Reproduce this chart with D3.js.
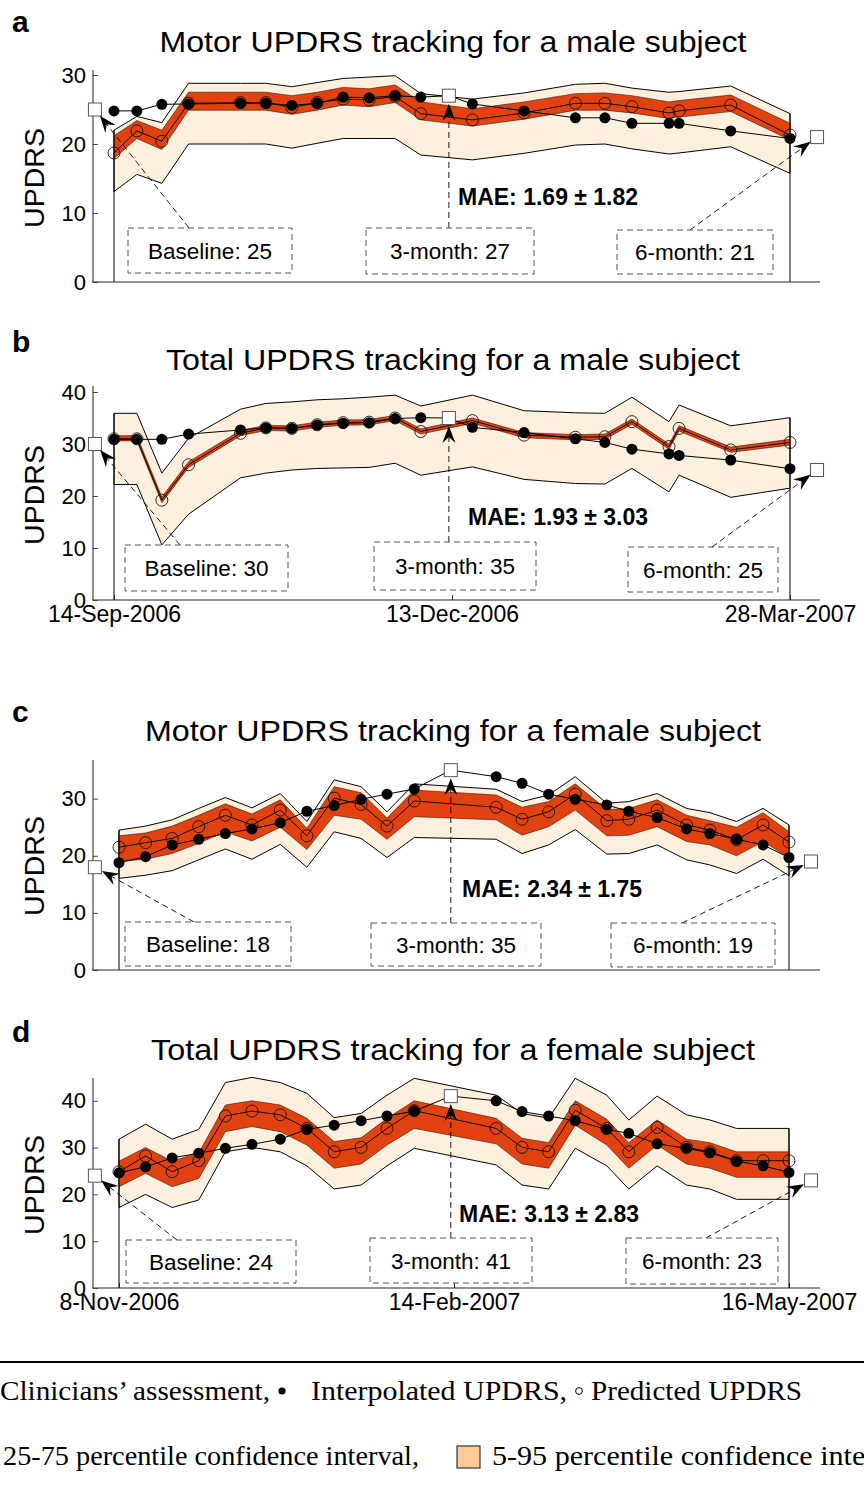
<!DOCTYPE html>
<html><head><meta charset="utf-8">
<script src="https://cdn.jsdelivr.net/npm/d3@7"></script>
<style>body{margin:0;background:#fff}svg{display:block}</style>
</head><body>
<svg id="chart" width="864" height="1486"></svg>
<script>
// ---------------- DATA ----------------
// days since first recording (male: 14-Sep-2006, female: 8-Nov-2006)
const daysMale = [0, 6.6, 13.8, 21.5, 36.5, 43.8, 51.3, 58.6, 66.1, 73.6, 81.1, 88.5, 103.4, 118.3, 133.1, 141.6, 149.4, 160.1, 163, 177.9, 195];
const daysFemale = [0, 7.5, 15, 22.5, 30, 37.5, 45.5, 53, 60.7, 68.3, 75.6, 83.3, 106.4, 113.7, 121.2, 128.7, 137.6, 143.8, 151.8, 160.1, 166.7, 174.2, 181.7, 189];

const clinDaysMale = [-5.5, 96.6, 202.8];
const clinDaysFemale = [-6.8, 93.6, 195.2];
const clinLabels = ["Baseline", "3-month", "6-month"];

// a: Motor UPDRS, male
const motorMaleClin = [25, 27, 21];
const motorMaleInterp = [24.8, 24.8, 25.75, 25.8, 25.9, 25.9, 25.6, 25.9, 26.8, 26.7, 27.0, 26.8, 25.8, 24.8, 23.8, 23.8, 23.0, 23.0, 23.0, 21.9, 20.8];
const motorMalePred = [18.7, 21.9, 20.4, 25.9, 26.0, 26.0, 25.3, 26.0, 26.5, 26.4, 26.9, 24.4, 23.5, 24.5, 25.9, 25.9, 25.4, 24.5, 24.8, 25.65, 21.3];
const motorMaleQ95 = [22.0, 24.0, 23.1, 28.8, 28.8, 28.8, 28.3, 28.9, 29.5, 29.7, 29.9, 27.3, 26.5, 27.4, 28.65, 28.8, 28.1, 27.5, 27.6, 28.4, 24.4];
const motorMaleQ75 = [21.2, 23.4, 22.0, 27.5, 27.5, 27.5, 27.0, 27.5, 28.2, 28.0, 28.55, 26.1, 25.1, 26.1, 27.3, 27.4, 27.0, 26.1, 26.3, 27.1, 23.0];
const motorMaleQ25 = [17.9, 20.8, 19.2, 24.9, 24.9, 24.9, 24.3, 24.9, 25.65, 25.4, 26.0, 23.5, 22.6, 23.6, 24.9, 24.9, 24.5, 23.7, 23.9, 24.7, 20.6];
const motorMaleQ5 = [13.1, 15.6, 14.3, 20.0, 20.0, 20.0, 19.4, 20.1, 20.8, 20.8, 20.8, 18.4, 17.7, 18.65, 19.85, 20.0, 19.3, 18.55, 18.7, 19.6, 15.75];

// b: Total UPDRS, male
const totalMaleClin = [30, 35, 25];
const totalMaleInterp = [30.9, 30.9, 30.9, 31.9, 32.7, 33.1, 33.0, 33.65, 34.0, 34.1, 34.9, 35.06, 33.2, 32.2, 31.0, 30.3, 29.0, 28.1, 27.8, 26.9, 25.25];
const totalMalePred = [31.0, 31.0, 19.2, 26.0, 32.05, 33.1, 33.0, 33.7, 34.1, 34.2, 35.0, 32.4, 34.5, 31.7, 31.3, 31.4, 34.3, 29.5, 33.0, 28.85, 30.3];
const totalMaleQ95 = [35.9, 35.9, 24.4, 31.1, 36.7, 37.8, 38.1, 38.5, 38.7, 39.0, 39.4, 37.3, 39.4, 36.4, 36.0, 35.9, 39.0, 34.3, 37.5, 33.5, 35.06];
const totalMaleQ75 = [31.6, 31.6, 19.8, 26.6, 32.6, 33.6, 33.5, 34.2, 34.6, 34.7, 35.5, 32.9, 35.0, 32.2, 31.8, 31.9, 34.8, 30.0, 33.5, 29.4, 30.9];
const totalMaleQ25 = [30.6, 30.6, 18.7, 25.5, 31.6, 32.6, 32.5, 33.2, 33.6, 33.7, 34.5, 31.9, 34.0, 31.2, 30.8, 30.9, 33.8, 29.0, 32.5, 28.4, 29.8];
const totalMaleQ5 = [22.2, 22.2, 10.6, 16.5, 23.5, 24.4, 25.0, 25.3, 25.4, 25.5, 26.3, 24.0, 25.6, 23.2, 22.4, 22.3, 25.3, 20.8, 24.0, 19.75, 21.5];

// c: Motor UPDRS, female
const motorFemaleClin = [18, 35, 19];
const motorFemaleInterp = [18.8, 19.85, 21.9, 22.9, 23.9, 24.7, 25.8, 27.8, 28.8, 29.9, 30.8, 31.7, 33.85, 32.7, 30.8, 29.9, 28.9, 27.8, 26.7, 24.7, 23.9, 22.9, 21.9, 19.7];
const motorFemalePred = [21.5, 22.3, 23.05, 25.1, 27.1, 25.4, 28.0, 23.5, 30.1, 29.0, 25.2, 29.6, 28.5, 26.4, 27.7, 30.8, 26.15, 26.4, 28.0, 25.4, 24.5, 22.8, 25.4, 22.4];
const motorFemaleQ95 = [24.5, 25.2, 26.3, 28.3, 30.2, 28.4, 30.9, 26.0, 33.3, 32.1, 27.7, 32.6, 31.65, 29.5, 30.65, 33.85, 29.2, 29.5, 30.9, 28.3, 27.55, 26.0, 28.3, 25.4];
const motorFemaleQ75 = [23.5, 24.0, 25.2, 27.1, 29.1, 27.3, 29.8, 24.8, 32.1, 31.05, 26.6, 31.5, 30.65, 28.5, 29.5, 32.6, 28.1, 28.3, 29.8, 27.1, 26.15, 25.0, 27.55, 24.2];
const motorFemaleQ25 = [19.0, 19.4, 20.4, 22.2, 24.2, 22.6, 25.0, 21.1, 27.1, 26.4, 22.9, 26.85, 26.3, 23.6, 25.1, 28.0, 23.5, 23.6, 25.1, 22.5, 21.9, 20.0, 22.5, 19.7];
const motorFemaleQ5 = [16.05, 16.6, 17.4, 19.3, 21.2, 19.4, 22.0, 18.0, 24.2, 23.05, 19.7, 23.2, 22.9, 20.4, 21.9, 24.6, 20.3, 20.4, 21.9, 19.3, 18.4, 16.9, 19.4, 16.5];

// d: Total UPDRS, female
const totalFemaleClin = [24, 41, 23];
const totalFemaleInterp = [24.6, 25.9, 27.8, 28.8, 29.85, 30.7, 31.8, 33.9, 34.8, 35.75, 36.75, 37.8, 40.0, 37.7, 36.75, 35.75, 33.9, 33.05, 30.8, 29.85, 28.9, 27.1, 26.1, 24.7];
const totalFemalePred = [24.85, 28.2, 24.85, 27.2, 36.75, 37.8, 37.0, 34.1, 29.1, 30.05, 34.1, 37.9, 34.1, 30.05, 29.1, 38.0, 34.1, 29.1, 34.3, 30.05, 29.1, 27.2, 27.2, 27.2];
const totalFemaleQ95 = [31.8, 35.0, 31.8, 33.9, 43.9, 45.0, 43.9, 41.6, 36.4, 37.3, 41.2, 44.8, 41.2, 37.3, 36.3, 44.8, 41.2, 35.9, 41.0, 37.0, 35.9, 34.1, 34.1, 34.1];
const totalFemaleQ75 = [27.1, 30.0, 27.1, 28.9, 39.1, 40.0, 39.1, 36.25, 31.3, 32.1, 36.25, 40.0, 36.25, 32.0, 31.05, 40.0, 36.05, 31.05, 35.9, 31.8, 31.05, 29.1, 29.1, 29.1];
const totalFemaleQ25 = [21.65, 24.5, 21.65, 23.4, 33.4, 34.5, 33.4, 30.55, 25.6, 26.5, 30.55, 34.1, 30.8, 26.5, 25.6, 34.8, 30.55, 25.6, 30.55, 26.5, 25.6, 23.65, 23.65, 23.65];
const totalFemaleQ5 = [17.2, 20.0, 17.2, 18.8, 29.1, 30.05, 29.1, 26.1, 21.15, 22.0, 26.1, 29.85, 26.3, 22.0, 21.15, 29.85, 26.1, 21.15, 26.1, 22.0, 21.15, 18.95, 18.95, 18.95];

const maleTickDays = [0, 97.5, 195];
const maleTickLabels = ["14-Sep-2006", "13-Dec-2006", "28-Mar-2007"];
const femaleTickDays = [0, 94.5, 189];
const femaleTickLabels = ["8-Nov-2006", "14-Feb-2007", "16-May-2007"];

const maeTexts = ["MAE: 1.69 \u00B1 1.82", "MAE: 1.93 \u00B1 3.03", "MAE: 2.34 \u00B1 1.75", "MAE: 3.13 \u00B1 2.83"];

// ---------------- LAYOUT ----------------
const SANS = '"Liberation Sans", Arial, Helvetica, sans-serif';
const SERIF = '"Liberation Serif", "Times New Roman", Times, serif';
const LIGHT = "#FEF0DE", DARK = "#E2420F";

const panels = [
  {letter:"a", letterY:32, title:"Motor UPDRS tracking for a male subject", titleW:587, titleY:52,
   days:daysMale, cDays:clinDaysMale, xDom:[0,195], xRange:[114,790],
   yDom:[0,30], yRange:[282,75], yTop:70, yTicks:[0,10,20,30], labelY:178,
   clin:motorMaleClin, interp:motorMaleInterp, pred:motorMalePred,
   q95:motorMaleQ95, q75:motorMaleQ75, q25:motorMaleQ25, q5:motorMaleQ5,
   ticks:null, mae:maeTexts[0], maeX:458, maeY:205,
   boxes:[[128,228,292,273,189],[366,228,534,274,null],[617,230,773,274,690]]},
  {letter:"b", letterY:352, title:"Total UPDRS tracking for a male subject", titleW:574, titleY:370,
   days:daysMale, cDays:clinDaysMale, xDom:[0,195], xRange:[114,790],
   yDom:[0,40], yRange:[600,392], yTop:386, yTicks:[0,10,20,30,40], labelY:495,
   clin:totalMaleClin, interp:totalMaleInterp, pred:totalMalePred,
   q95:totalMaleQ95, q75:totalMaleQ75, q25:totalMaleQ25, q5:totalMaleQ5,
   ticks:[maleTickDays, maleTickLabels], mae:maeTexts[1], maeX:468, maeY:525,
   boxes:[[125,545,288,591,180],[374,542,536,590,null],[628,547,778,592,712]]},
  {letter:"c", letterY:722, title:"Motor UPDRS tracking for a female subject", titleW:616, titleY:741,
   days:daysFemale, cDays:clinDaysFemale, xDom:[0,189], xRange:[119,789],
   yDom:[0,30], yRange:[970,798.7], yTop:760, yTicks:[0,10,20,30], labelY:866,
   clin:motorFemaleClin, interp:motorFemaleInterp, pred:motorFemalePred,
   q95:motorFemaleQ95, q75:motorFemaleQ75, q25:motorFemaleQ25, q5:motorFemaleQ5,
   ticks:null, mae:maeTexts[2], maeX:462, maeY:897,
   boxes:[[125,922,291,966,194],[371,923,541,966,null],[611,923,775,967,682]]},
  {letter:"d", letterY:1042, title:"Total UPDRS tracking for a female subject", titleW:604, titleY:1060,
   days:daysFemale, cDays:clinDaysFemale, xDom:[0,189], xRange:[119,789],
   yDom:[0,40], yRange:[1288,1100.8], yTop:1078, yTicks:[0,10,20,30,40], labelY:1185,
   clin:totalFemaleClin, interp:totalFemaleInterp, pred:totalFemalePred,
   q95:totalFemaleQ95, q75:totalFemaleQ75, q25:totalFemaleQ25, q5:totalFemaleQ5,
   ticks:[femaleTickDays, femaleTickLabels], mae:maeTexts[3], maeX:459, maeY:1222,
   boxes:[[126,1240,296,1283,177],[370,1238,532,1283,null],[626,1238,778,1284,706]]}
];

const AXIS_X0 = 93, AXIS_X1 = 820;
const svg = d3.select("#chart");

function arrowHead(g, tip, from) {
  const ang = Math.atan2(tip[1] - from[1], tip[0] - from[0]) * 180 / Math.PI;
  g.append("path")
    .attr("d", "M0,0 L-17,-6.5 L-11,0 L-17,6.5 Z")
    .attr("fill", "#000")
    .attr("transform", `translate(${tip[0]},${tip[1]}) rotate(${ang})`);
}

panels.forEach((P, pi) => {
  const g = svg.append("g");
  const x = d3.scaleLinear().domain(P.xDom).range(P.xRange);
  const y = d3.scaleLinear().domain(P.yDom).range(P.yRange);
  const idx = d3.range(P.days.length);
  const y0 = y(0);

  // light band 5-95
  g.append("path")
    .attr("d", d3.area().x(i => x(P.days[i])).y0(i => y(P.q5[i])).y1(i => y(P.q95[i]))(idx) + "Z")
    .attr("fill", LIGHT).attr("stroke", "#000").attr("stroke-width", 1);
  // dark band 25-75
  g.append("path")
    .attr("d", d3.area().x(i => x(P.days[i])).y0(i => y(P.q25[i])).y1(i => y(P.q75[i]))(idx))
    .attr("fill", DARK).attr("stroke", "#3a1005").attr("stroke-width", 0.6);

  // vertical edge lines from band to axis
  const last = idx.length - 1;
  [0, last].forEach(i => {
    g.append("line").attr("x1", x(P.days[i])).attr("x2", x(P.days[i]))
      .attr("y1", y(P.q95[i])).attr("y2", y0)
      .attr("stroke", "#000").attr("stroke-width", 1);
  });

  // axes
  g.append("line").attr("x1", AXIS_X0).attr("x2", AXIS_X0).attr("y1", P.yTop).attr("y2", y0)
    .attr("stroke", "#444").attr("stroke-width", 1.2);
  g.append("line").attr("x1", AXIS_X0 - 1).attr("x2", AXIS_X1).attr("y1", y0).attr("y2", y0)
    .attr("stroke", "#222").attr("stroke-width", 1.2);
  const ya = g.append("g").attr("transform", `translate(${AXIS_X0},0)`)
    .call(d3.axisLeft(y).tickValues(P.yTicks).tickSize(-5).tickPadding(7).tickFormat(d3.format("d")));
  ya.select(".domain").remove();
  ya.selectAll("text").attr("font-family", SANS).attr("font-size", 22).attr("fill", "#000");
  ya.selectAll("line").attr("stroke", "#444");
  if (P.ticks) {
    const xa = g.append("g").attr("transform", `translate(0,${y0})`)
      .call(d3.axisBottom(x).tickValues(P.ticks[0]).tickSize(-5).tickPadding(6)
        .tickFormat((d, i) => P.ticks[1][i]));
    xa.select(".domain").remove();
    xa.selectAll("text").attr("font-family", SANS).attr("font-size", 23).attr("fill", "#000");
    xa.selectAll("line").attr("stroke", "#222");
  }

  // interpolated line (passes through the 3-month clinical score)
  const interpPts = idx.map(i => [P.days[i], P.interp[i]]);
  interpPts.push([P.cDays[1], P.clin[1]]);
  interpPts.sort((a, b) => a[0] - b[0]);
  g.append("path").attr("d", d3.line().x(d => x(d[0])).y(d => y(d[1]))(interpPts))
    .attr("fill", "none").attr("stroke", "#000").attr("stroke-width", 1);
  // predicted line
  g.append("path").attr("d", d3.line().x(i => x(P.days[i])).y(i => y(P.pred[i]))(idx))
    .attr("fill", "none").attr("stroke", "#000").attr("stroke-width", 0.9);
  // interpolated dots
  g.selectAll(".dot").data(idx).enter().append("circle")
    .attr("cx", i => x(P.days[i])).attr("cy", i => y(P.interp[i])).attr("r", 5.5).attr("fill", "#000");
  // predicted circles
  g.selectAll(".oc").data(idx).enter().append("circle")
    .attr("cx", i => x(P.days[i])).attr("cy", i => y(P.pred[i])).attr("r", 6)
    .attr("fill", "none").attr("stroke", "#111").attr("stroke-width", 0.9);

  // clinical squares
  const S = 13;
  P.clin.forEach((v, k) => {
    g.append("rect").attr("x", x(P.cDays[k]) - S / 2).attr("y", y(v) - S / 2)
      .attr("width", S).attr("height", S).attr("fill", "#fff").attr("stroke", "#555").attr("stroke-width", 1);
  });

  // annotation boxes + arrows
  P.boxes.forEach((b, k) => {
    const sq = [x(P.cDays[k]), y(P.clin[k])];
    const anchor = [b[4] === null ? sq[0] : b[4], b[1]];
    const dx = anchor[0] - sq[0], dy = anchor[1] - sq[1];
    const L = Math.hypot(dx, dy);
    const ux = dx / L, uy = dy / L;
    const tip = [sq[0] + ux * 8, sq[1] + uy * 8];
    const lineEnd = [tip[0] + ux * 11, tip[1] + uy * 11];
    g.append("line").attr("x1", anchor[0]).attr("y1", anchor[1]).attr("x2", lineEnd[0]).attr("y2", lineEnd[1])
      .attr("stroke", "#000").attr("stroke-width", 0.9).attr("stroke-dasharray", "6,4");
    arrowHead(g, tip, anchor);
    g.append("rect").attr("x", b[0]).attr("y", b[1]).attr("width", b[2] - b[0]).attr("height", b[3] - b[1])
      .attr("fill", "#fff").attr("stroke", "#555").attr("stroke-width", 1).attr("stroke-dasharray", "6,4");
    g.append("text").attr("x", (b[0] + b[2]) / 2).attr("y", (b[1] + b[3]) / 2 + 8)
      .attr("text-anchor", "middle").attr("font-family", SANS).attr("font-size", 22.5)
      .text(`${clinLabels[k]}: ${P.clin[k]}`);
  });

  // MAE
  g.append("text").attr("x", P.maeX).attr("y", P.maeY).attr("font-family", SANS)
    .attr("font-weight", "bold").attr("font-size", 23).text(P.mae);

  // title, letter, y label
  g.append("text").attr("x", 453).attr("y", P.titleY).attr("text-anchor", "middle")
    .attr("font-family", SANS).attr("font-size", 30)
    .attr("textLength", P.titleW).attr("lengthAdjust", "spacingAndGlyphs").text(P.title);
  g.append("text").attr("x", 12).attr("y", P.letterY).attr("font-family", SANS)
    .attr("font-weight", "bold").attr("font-size", 30).text(P.letter);
  g.append("text").attr("transform", `translate(44,${P.labelY}) rotate(-90)`)
    .attr("text-anchor", "middle").attr("font-family", SANS).attr("font-size", 28)
    .attr("textLength", 100).attr("lengthAdjust", "spacingAndGlyphs").text("UPDRS");
});

// ---------------- LEGEND ----------------
const lg = svg.append("g").attr("font-family", SERIF).attr("font-size", 28);
lg.append("line").attr("x1", 0).attr("x2", 864).attr("y1", 1362).attr("y2", 1362)
  .attr("stroke", "#000").attr("stroke-width", 2);
lg.append("text").attr("x", 0).attr("y", 1400).attr("textLength", 270)
  .attr("lengthAdjust", "spacingAndGlyphs").text("Clinicians\u2019 assessment,");
lg.append("circle").attr("cx", 282).attr("cy", 1391).attr("r", 3.6).attr("fill", "#000");
lg.append("text").attr("x", 311).attr("y", 1400).attr("textLength", 256)
  .attr("lengthAdjust", "spacingAndGlyphs").text("Interpolated UPDRS,");
lg.append("circle").attr("cx", 579).attr("cy", 1391).attr("r", 3.4).attr("fill", "none")
  .attr("stroke", "#000").attr("stroke-width", 1);
lg.append("text").attr("x", 591).attr("y", 1400).attr("textLength", 211)
  .attr("lengthAdjust", "spacingAndGlyphs").text("Predicted UPDRS");
lg.append("text").attr("x", 3).attr("y", 1465).attr("textLength", 416)
  .attr("lengthAdjust", "spacingAndGlyphs").text("25-75 percentile confidence interval,");
lg.append("rect").attr("x", 457).attr("y", 1446).attr("width", 23).attr("height", 22)
  .attr("fill", "#FFCC99").attr("stroke", "#333").attr("stroke-width", 1.2);
lg.append("text").attr("x", 492).attr("y", 1465).attr("textLength", 420)
  .attr("lengthAdjust", "spacingAndGlyphs").text("5-95 percentile confidence interval");
</script>
</body></html>
